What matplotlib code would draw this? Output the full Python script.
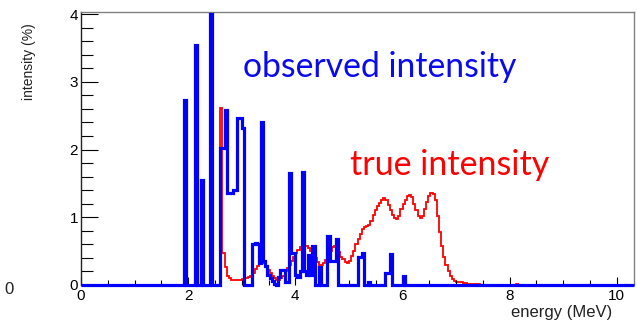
import numpy as np
import matplotlib
matplotlib.use("Agg")
from matplotlib import pyplot as plt
from matplotlib.ticker import MultipleLocator

# histogram binning (MeV)
BIN_WIDTH = 0.04
N_BINS = 258

# observed intensity: (bin index, intensity in %), all other bins empty
observed_bins = [48, 53, 56, 60,
                 65, 66, 67, 68, 69, 70, 71, 72, 73, 74, 75,
                 80, 81, 82, 83, 84, 85, 86, 87, 88, 89, 90,
                 92, 93, 94, 95, 96, 97, 98, 99, 100, 101, 102, 103, 104, 105,
                 106, 107, 108, 111, 115, 116, 117, 118, 119,
                 129, 130, 131, 134, 142, 143, 144, 150]
observed_values = [2.73, 3.55, 1.55, 4.0,
                   2.02, 2.02, 2.58, 1.36, 1.36, 1.36, 1.40, 1.40, 2.46, 2.46, 2.32,
                   0.60, 0.62, 0.60, 0.32, 2.41, 0.35, 0.28, 0.15, 0.10, 0.06, 0.02,
                   0.12, 0.22, 0.22, 0.05, 0.05, 1.66, 0.47, 0.47, 0.15, 0.12, 0.20, 1.67, 0.20, 0.15,
                   0.45, 0.15, 0.57, 0.27, 0.72, 0.35, 0.35, 0.35, 0.68,
                   0.42, 0.42, 0.47, 0.05, 0.17, 0.17, 0.46, 0.13]

# true intensity: isolated lines plus the continuum starting at bin 65
true_line_bins = [48, 53, 56, 60, 203]
true_line_values = [2.73, 3.55, 1.55, 4.1, 0.02]
true_start_bin = 65
true_values = [2.62, 0.47, 0.27, 0.14, 0.10, 0.08, 0.08, 0.07, 0.08, 0.08,
               0.09, 0.10, 0.10, 0.12, 0.14, 0.18, 0.24, 0.28, 0.33, 0.36,
               0.33, 0.28, 0.22, 0.17, 0.13, 0.10, 0.08, 0.08, 0.10, 0.14,
               0.20, 0.25, 0.30, 0.36, 0.42, 0.47, 0.52, 0.56, 0.58, 0.57,
               0.57, 0.55, 0.50, 0.46, 0.40, 0.34, 0.30, 0.30, 0.33, 0.37,
               0.42, 0.50, 0.56, 0.57, 0.55, 0.48, 0.42, 0.38, 0.34, 0.33,
               0.36, 0.43, 0.50, 0.60, 0.68, 0.76, 0.82, 0.85, 0.87, 0.89,
               0.95, 1.03, 1.10, 1.16, 1.21, 1.25, 1.28, 1.26, 1.18, 1.10,
               1.03, 0.99, 0.98, 1.02, 1.12, 1.20, 1.26, 1.31, 1.33, 1.30,
               1.20, 1.10, 1.02, 0.99, 1.02, 1.12, 1.22, 1.31, 1.36, 1.35,
               1.25, 1.02, 0.78, 0.58, 0.42, 0.30, 0.20, 0.13, 0.09, 0.06,
               0.05, 0.04, 0.04, 0.03, 0.03, 0.02, 0.02, 0.02, 0.01, 0.01,
               0.01]

edges = np.arange(N_BINS + 1) * BIN_WIDTH

observed = np.zeros(N_BINS)
observed[observed_bins] = observed_values

true = np.zeros(N_BINS)
true[true_start_bin:true_start_bin + len(true_values)] = true_values
true[true_line_bins] = true_line_values

plt.rcParams["font.family"] = ["Liberation Sans", "DejaVu Sans"]

fig = plt.figure(figsize=(6.37, 3.28), dpi=100)
ax = fig.add_axes([81 / 637, 1 - 285 / 328, 553 / 637, 273 / 328])

ax.stairs(true, edges, color="#ff0000", lw=1.3, baseline=None)
# observed histogram is left unclipped so the zero line keeps its full width
ax.stairs(observed, edges, color="#0000ff", lw=2.3, baseline=None,
          clip_on=False, zorder=3)

ax.set_xlim(0, 10.32)
ax.set_ylim(0, 4.03)

ax.xaxis.set_major_locator(MultipleLocator(2))
ax.xaxis.set_minor_locator(MultipleLocator(0.5))
ax.yaxis.set_major_locator(MultipleLocator(1))
ax.yaxis.set_minor_locator(MultipleLocator(0.2))
ax.tick_params(axis="x", which="major", direction="in", length=6, width=0.8,
               labelsize=11, pad=3)
ax.tick_params(axis="x", which="minor", direction="in", length=3.5, width=0.8)
ax.tick_params(axis="y", which="major", direction="in", length=12, width=0.8,
               labelsize=11, pad=2)
ax.tick_params(axis="y", which="minor", direction="in", length=8.5, width=0.8)

ax.spines["left"].set_color("#222222")
ax.spines["top"].set_color("#808080")
ax.spines["right"].set_color("#808080")
ax.spines["bottom"].set_visible(False)
for s in ("left", "top", "right"):
    ax.spines[s].set_linewidth(1.0)

fig.text(29 / 637, 1 - 23 / 328, "intensity (%)", rotation=90, ha="center",
         va="top", fontsize=10, color="#222222")
fig.text(612 / 637, 1 - 313 / 328, "energy (MeV)", ha="right", va="center",
         fontsize=12, color="#222222")
fig.text(4 / 637, 1 - 290 / 328, "0", ha="left", va="center", fontsize=12,
         color="#222222")

fig.text(243 / 637, 1 - 77 / 328, "observed intensity", ha="left",
         va="baseline", fontsize=24.3, color="#0a0af0", family="Lato")
fig.text(350 / 637, 1 - 175 / 328, "true intensity", ha="left",
         va="baseline", fontsize=24.5, color="#ff0000", family="Lato")

fig.savefig("out.png", dpi=100)
